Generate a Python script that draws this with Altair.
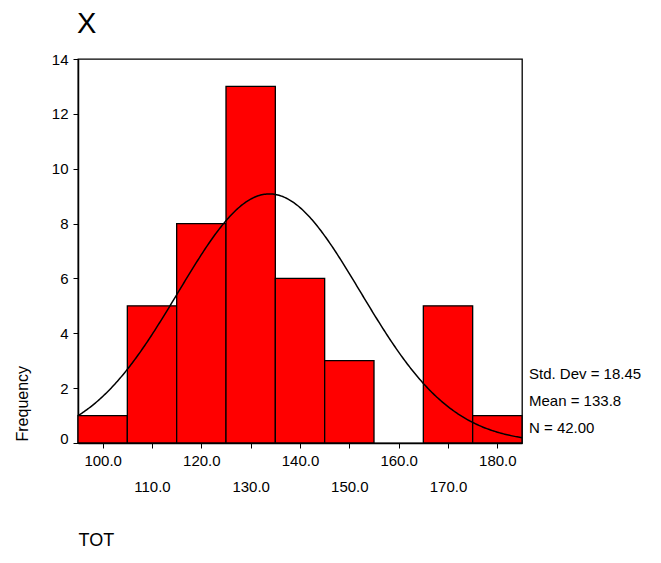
import altair as alt
import pandas as pd

# Data
bin_centers = [100, 110, 120, 130, 140, 150, 160, 170, 180]
frequencies = [1, 5, 8, 13, 6, 3, 0, 5, 1]
bin_width = 10
std_dev = 18.45
mean = 133.8
n_obs = 42
x_ticks = [100, 110, 120, 130, 140, 150, 160, 170, 180]
y_ticks = [0, 2, 4, 6, 8, 10, 12, 14]

df = pd.DataFrame({
    "center": bin_centers,
    "count": frequencies,
})
df["start"] = df["center"] - bin_width / 2
df["end"] = df["center"] + bin_width / 2

FONT = "Liberation Sans"
xscale = alt.Scale(domain=[95, 185], nice=False, zero=False)
yscale = alt.Scale(domain=[0, 14], nice=False)

bars = alt.Chart(df).transform_filter("datum.count > 0").mark_rect(
    color="#FF0000", stroke="black", strokeWidth=1.3, opacity=1
).encode(
    x=alt.X("start:Q", scale=xscale, axis=alt.Axis(
        values=x_ticks, format=".1f", title="TOT",
        titleX=0, titleY=102, titleAlign="left", titleBaseline="alphabetic",
        titleFontSize=18, titleFontWeight="normal", titleFont=FONT,
        labelFontSize=15, labelFont=FONT, labelBaseline="alphabetic",
        labelPadding={"condition": {"test": "datum.value % 20 != 0", "value": 43}, "value": 17},
        labelOverlap=False, labelFlush=False, tickSize=5, grid=False,
        domainColor="black", domainWidth=1.5, tickColor="black", labelColor="black",
        titleColor="black",
    )),
    x2="end:Q",
    y=alt.Y("count:Q", scale=yscale, axis=alt.Axis(
        values=y_ticks, title="Frequency",
        titleAngle=270, titleX=-50.5, titleY=382, titleAlign="left",
        titleBaseline="alphabetic", titleFontSize=16, titleFontWeight="normal",
        titleFont=FONT, labelFontSize=15, labelFont=FONT, labelPadding=5,
        labelBaseline={"condition": {"test": "datum.value == 0", "value": "alphabetic"}, "value": "middle"},
        tickSize=5, grid=False, domainColor="black", domainWidth=1.5,
        tickColor="black", labelColor="black", titleColor="black",
    )),
    y2=alt.datum(0),
)

curve = alt.Chart(alt.sequence(95, 185.25, 0.25, as_="x")).transform_calculate(
    y=f"{n_obs} * {bin_width} * densityNormal(datum.x, {mean}, {std_dev})"
).mark_line(color="black", strokeWidth=1.5).encode(
    x=alt.X("x:Q", scale=xscale),
    y=alt.Y("y:Q", scale=yscale),
)

stats_lines = [
    f"Std. Dev = {std_dev:.2f}",
    f"Mean = {mean:.1f}",
    f"N = {n_obs:.2f}",
]

stats = alt.Chart(pd.DataFrame({"k": [0]})).mark_text(
    align="left", baseline="alphabetic", fontSize=15, font=FONT,
    lineHeight=27, color="black",
).encode(
    x=alt.value(451), y=alt.value(320), text=alt.value(stats_lines)
)

title = alt.Chart(pd.DataFrame({"k": [0]})).mark_text(
    align="left", baseline="alphabetic", fontSize=29, font=FONT, color="black",
).encode(
    x=alt.value(-1), y=alt.value(-26), text=alt.value("X")
)

chart = alt.layer(bars, curve, stats, title).properties(
    width=444, height=384,
    autosize=alt.AutoSizeParams(type="none"),
    padding={"left": 70, "top": 51, "right": 131, "bottom": 112},
    background="white",
).configure_view(
    stroke="black", strokeWidth=1.3
)

chart.save("out.html", embed_options={"renderer": "svg", "actions": False})
